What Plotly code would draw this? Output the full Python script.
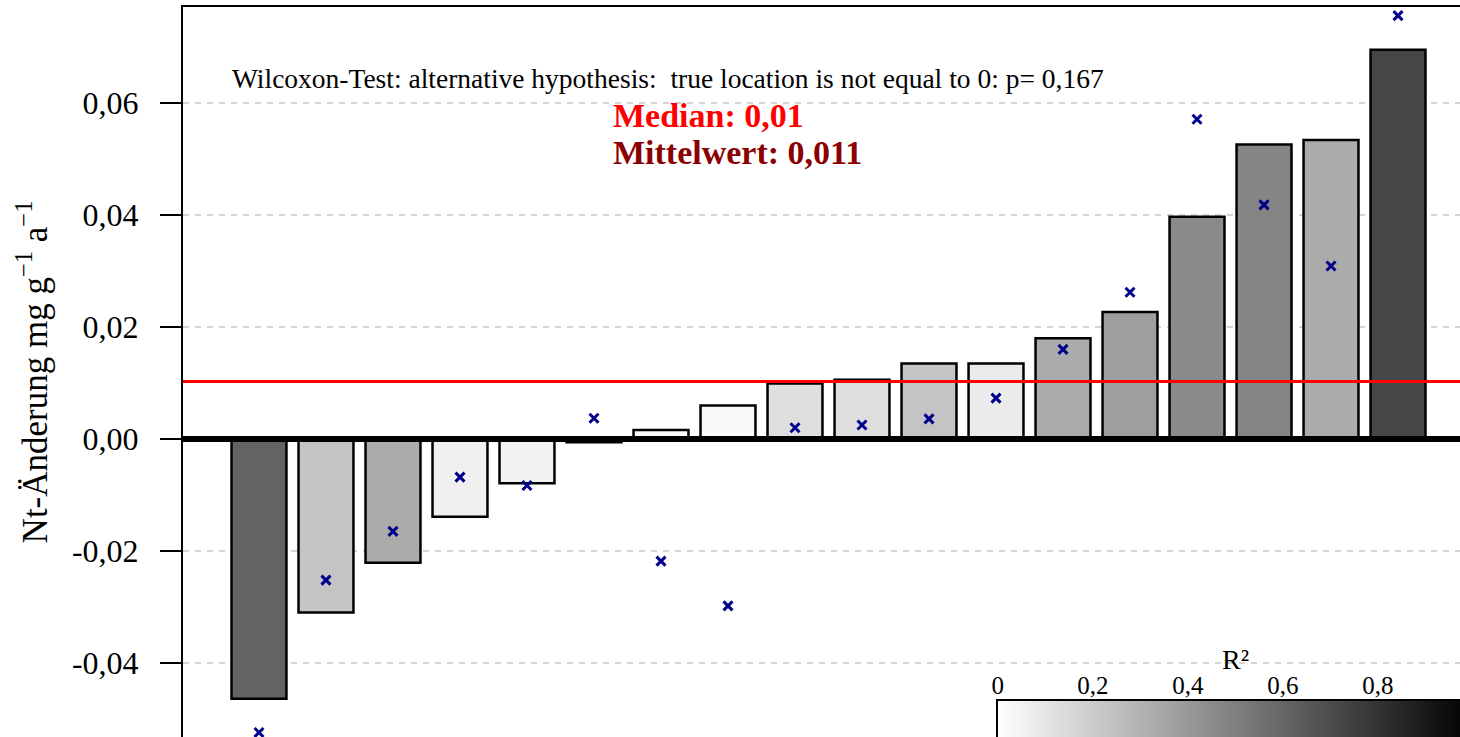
import numpy as np
import plotly.graph_objects as go

# Nt change per site (mg g^-1 a^-1), sorted ascending
site = list(range(1, 19))
nt_change = [-0.0464, -0.0310, -0.0221, -0.0139, -0.0079, -0.0006, 0.0016, 0.0060, 0.0099,
             0.0106, 0.0135, 0.0135, 0.0180, 0.0227, 0.0397, 0.0526, 0.0534, 0.0695]
# alternative estimate per site (crosses)
nt_alt = [-0.0524, -0.0252, -0.0165, -0.0068, -0.0083, 0.0037, -0.0218, -0.0298, 0.0020,
          0.0025, 0.0036, 0.0073, 0.0160, 0.0262, 0.0571, 0.0418, 0.0309, 0.0756]
# coefficient of determination per site -> bar shading
r2 = [0.61, 0.23, 0.33, 0.06, 0.05, 0.10, 0.01, 0.02, 0.13,
      0.13, 0.23, 0.08, 0.33, 0.38, 0.46, 0.48, 0.33, 0.72]

y_ticks = [-0.04, -0.02, 0.0, 0.02, 0.04, 0.06]
y_tick_labels = ["-0,04", "-0,02", "0,00", "0,02", "0,04", "0,06"]
r2_ticks = [0, 0.2, 0.4, 0.6, 0.8]
r2_tick_labels = ["0", "0,2", "0,4", "0,6", "0,8"]

wilcox_text = "Wilcoxon-Test: alternative hypothesis:  true location is not equal to 0: p= 0,167"
median_text = "Median: 0,01"
mean_text = "Mittelwert: 0,011"

FONT = "Liberation Serif"
GREYS = [[0, "white"], [1, "black"]]

fig = go.Figure()

fig.add_trace(go.Bar(
    x=site, y=nt_change,
    marker=dict(color=r2, colorscale=GREYS, cmin=0, cmax=1,
                line=dict(color="black", width=2.5), showscale=False),
    showlegend=False,
))

fig.add_trace(go.Scatter(
    x=site, y=nt_alt, mode="markers",
    marker=dict(symbol="x-thin", size=9, color="#00008b", line=dict(color="#00008b", width=3)),
    showlegend=False,
))

# R² colour ramp legend (own small subplot)
ramp = np.linspace(0, 1, 401)
fig.add_trace(go.Heatmap(
    x=ramp, y=[0], z=[ramp], zmin=0, zmax=1, colorscale=GREYS,
    showscale=False, hoverinfo="skip", xaxis="x2", yaxis="y2",
))

# zero baseline and median line
fig.add_hline(y=0, line=dict(color="black", width=6), layer="above")
fig.add_hline(y=float(np.median(nt_change)), line=dict(color="#ff0000", width=3), layer="above")

fig.add_annotation(xref="paper", yref="paper", x=0.0368, y=0.9027, xanchor="left", yanchor="middle",
                   text=wilcox_text, showarrow=False,
                   font=dict(family=FONT, size=27.5, color="black"))
fig.add_annotation(xref="paper", yref="paper", x=0.335, y=0.852, xanchor="left", yanchor="middle",
                   text="<b>" + median_text + "</b>", showarrow=False,
                   font=dict(family=FONT, size=34, color="#ff0000"))
fig.add_annotation(xref="paper", yref="paper", x=0.335, y=0.801, xanchor="left", yanchor="middle",
                   text="<b>" + mean_text + "</b>", showarrow=False,
                   font=dict(family=FONT, size=34, color="#8b0000"))
fig.add_annotation(xref="x2", yref="paper", x=0.5, y=0.1055, xanchor="center", yanchor="middle",
                   text="R²", showarrow=False,
                   font=dict(family=FONT, size=28, color="black"))

fig.update_layout(
    width=1460, height=737,
    margin=dict(l=183, r=0, t=7, b=0, autoexpand=False),
    paper_bgcolor="white", plot_bgcolor="white",
    separators=",.",
    bargap=0.18,
    font=dict(family=FONT, color="black"),
    xaxis=dict(
        range=[-0.134, 18.925], side="top",
        showline=True, linecolor="black", linewidth=2,
        showgrid=False, zeroline=False, showticklabels=False, ticks="",
    ),
    yaxis=dict(
        range=[-0.05321, 0.07714],
        tickvals=y_ticks, ticktext=y_tick_labels,
        ticks="outside", ticklen=21, tickwidth=2, tickcolor="black",
        ticklabelstandoff=15,
        tickfont=dict(family=FONT, size=32, color="black"),
        showline=True, linecolor="black", linewidth=2,
        showgrid=True, gridcolor="#d3d3d3", gridwidth=2, griddash="6px,6px",
        zeroline=False,
        title=dict(text="Nt-Änderung mg g<sup>−1</sup> a<sup>−1</sup>",
                   font=dict(family=FONT, size=35, color="black"), standoff=14),
    ),
    xaxis2=dict(
        domain=[0.638, 1], range=[0, 0.9726], anchor="y2", side="top",
        showline=True, linecolor="black", linewidth=2,
        showgrid=False, zeroline=False, ticks="",
        ticklabelstandoff=-5,
        tickvals=r2_ticks, ticktext=r2_tick_labels,
        tickfont=dict(family=FONT, size=25, color="black"),
    ),
    yaxis2=dict(
        domain=[0, 0.0493], range=[-0.5, 0.5], anchor="x2",
        showline=True, linecolor="black", linewidth=2,
        showgrid=False, zeroline=False, showticklabels=False, ticks="",
    ),
)

fig.write_html("out.html")
